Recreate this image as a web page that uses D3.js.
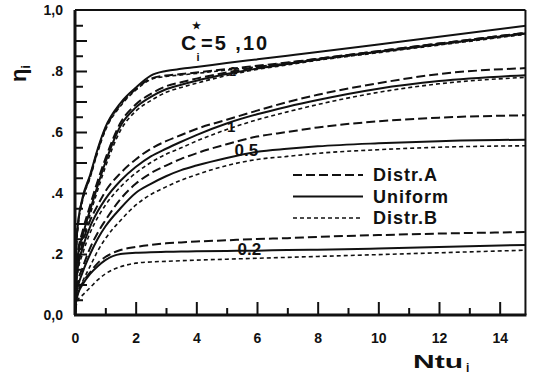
<!DOCTYPE html>
<html>
<head>
<meta charset="utf-8">
<script src="https://cdn.jsdelivr.net/npm/d3@7"></script>
<style>
  body { margin: 0; background: #fff; }
  text { font-family: "Liberation Sans", Arial, sans-serif; font-weight: bold; fill: #111; }
</style>
</head>
<body>
<div id="chart"></div>
<script>
// shared Ntu grid for every curve
const ntu = [0, 0.02, 0.05, 0.1, 0.25, 0.5, 0.75, 1, 1.5, 2, 2.5, 3, 3.5, 4, 5, 6, 7, 8, 10, 12, 15];

// C* = 5, 10
const c10A = [0, .14, .24, .30, .38, .455, .54, .61, .69, .74, .775, .785, .79, .795, .806, .817, .828, .84, .865, .89, .927];
const c10U = [0, .14, .24, .30, .385, .46, .545, .615, .695, .745, .785, .80, .807, .813, .826, .838, .85, .862, .887, .912, .95];
const c10B = [0, .13, .23, .29, .375, .45, .535, .605, .685, .737, .772, .782, .787, .792, .803, .814, .825, .837, .862, .887, .924];
// C* = 2
const c2A = [0, .11, .17, .21, .275, .36, .44, .512, .63, .69, .725, .75, .763, .775, .795, .812, .826, .84, .865, .89, .927];
const c2U = [0, .10, .16, .20, .26, .345, .425, .50, .62, .68, .715, .74, .755, .768, .79, .808, .823, .838, .863, .888, .925];
const c2B = [0, .09, .15, .19, .245, .33, .41, .485, .605, .668, .703, .73, .746, .76, .785, .805, .82, .835, .86, .885, .922];
// C* = 1
const c1A = [0, .075, .13, .17, .235, .31, .36, .405, .465, .51, .545, .57, .59, .61, .64, .67, .698, .722, .76, .79, .81];
const c1U = [0, .07, .12, .16, .22, .29, .34, .38, .44, .485, .52, .545, .568, .59, .628, .658, .683, .705, .742, .767, .787];
const c1B = [0, .06, .105, .145, .20, .27, .32, .36, .42, .465, .50, .527, .548, .57, .608, .64, .666, .69, .73, .758, .78];
// C* = 0.5
const c05A = [0, .045, .08, .11, .155, .22, .27, .31, .38, .43, .465, .49, .512, .53, .56, .585, .60, .615, .635, .647, .655];
const c05U = [0, .04, .07, .095, .14, .20, .25, .29, .35, .40, .43, .455, .475, .49, .515, .535, .545, .553, .563, .57, .575];
const c05B = [0, .03, .055, .075, .11, .16, .21, .25, .31, .36, .395, .42, .442, .46, .49, .51, .52, .53, .542, .55, .555];
// C* = 0.2
const c02A = [0, .035, .055, .075, .105, .14, .17, .19, .213, .223, .23, .235, .238, .241, .245, .249, .252, .256, .262, .267, .272];
const c02U = [0, .03, .05, .07, .10, .135, .16, .18, .20, .204, .206, .207, .208, .209, .21, .211, .213, .214, .218, .223, .23];
const c02B = [0, .02, .035, .05, .065, .09, .115, .135, .158, .17, .174, .176, .178, .18, .183, .186, .189, .192, .198, .204, .213];

const series = [
  { dist: 'A', values: c02A }, { dist: 'U', values: c02U }, { dist: 'B', values: c02B },
  { dist: 'A', values: c05A }, { dist: 'U', values: c05U }, { dist: 'B', values: c05B },
  { dist: 'A', values: c1A }, { dist: 'U', values: c1U }, { dist: 'B', values: c1B },
  { dist: 'A', values: c2A }, { dist: 'U', values: c2U }, { dist: 'B', values: c2B },
  { dist: 'A', values: c10A }, { dist: 'U', values: c10U }, { dist: 'B', values: c10B }
];

const curveLabels = [
  { text: '2', x: 5.2, y: 0.785, size: 12 },
  { text: '1', x: 5.15, y: 0.6, size: 15 },
  { text: '0.5', x: 5.65, y: 0.522, size: 17 },
  { text: '0.2', x: 5.75, y: 0.197, size: 17 }
];

const xMajor = [0, 2, 4, 6, 8, 10, 12, 14];
const xMinor = [1, 3, 5, 7, 9, 11, 13];
const yLabels = { 0: '0,0', 0.2: '.2', 0.4: '.4', 0.6: '.6', 0.8: '.8', 1: '1,0' };

const legendItems = [
  { dist: 'A', text: 'Distr.A' },
  { dist: 'U', text: 'Uniform' },
  { dist: 'B', text: 'Distr.B' }
];

const STYLES = {
  A: { dash: '9,4', width: 2 },
  U: { dash: null, width: 2 },
  B: { dash: '4,3', width: 1.6 }
};

const WIDTH = 534;
const HEIGHT = 383;
const X_END = 14.85;

const svg = d3.select('#chart').append('svg')
  .attr('width', WIDTH)
  .attr('height', HEIGHT);

svg.append('rect').attr('width', WIDTH).attr('height', HEIGHT).attr('fill', '#fff');

const x = d3.scaleLinear().domain([0, 15]).range([75, 530]);
const y = d3.scaleLinear().domain([0, 1]).range([315, 10]);

svg.append('clipPath').attr('id', 'plot-clip')
  .append('rect')
  .attr('x', x(0))
  .attr('y', y(1))
  .attr('width', x(X_END) - x(0))
  .attr('height', y(0) - y(1));

// x ticks, inward
svg.append('g')
  .attr('transform', `translate(0,${y(0)})`)
  .call(d3.axisBottom(x).tickValues(xMajor).tickSize(-13).tickPadding(18).tickFormat(d3.format('d')));
svg.append('g')
  .attr('transform', `translate(0,${y(0)})`)
  .call(d3.axisBottom(x).tickValues(xMinor).tickSize(-7).tickFormat(''));

// y ticks, inward, every .05
const yTicks = d3.range(1, 20).map(i => i / 20);
svg.append('g')
  .attr('transform', `translate(${x(0)},0)`)
  .call(d3.axisLeft(y).tickValues(yTicks.filter((d, i) => i % 2 === 1)).tickSize(-12).tickFormat(''));
svg.append('g')
  .attr('transform', `translate(${x(0)},0)`)
  .call(d3.axisLeft(y).tickValues(yTicks.filter((d, i) => i % 2 === 0)).tickSize(-8).tickFormat(''));
svg.append('g')
  .attr('transform', `translate(${x(0)},0)`)
  .call(d3.axisLeft(y).tickValues([0, 0.2, 0.4, 0.6, 0.8, 1]).tickSize(0).tickPadding(12)
    .tickFormat(d => yLabels[d]));

svg.selectAll('.domain').remove();
svg.selectAll('.tick line').attr('stroke', '#111').attr('stroke-width', 2);
svg.selectAll('.tick text')
  .attr('font-size', 14)
  .attr('font-family', '"Liberation Sans", Arial, sans-serif')
  .attr('font-weight', 'bold')
  .attr('fill', '#111');

// frame
svg.append('line').attr('x1', x(0)).attr('x2', x(0)).attr('y1', y(1)).attr('y2', y(0))
  .attr('stroke', '#111').attr('stroke-width', 3);
svg.append('line').attr('x1', x(0) - 1).attr('x2', x(X_END) + 1).attr('y1', y(0)).attr('y2', y(0))
  .attr('stroke', '#111').attr('stroke-width', 3);
svg.append('line').attr('x1', x(0)).attr('x2', x(X_END)).attr('y1', y(1)).attr('y2', y(1))
  .attr('stroke', '#111').attr('stroke-width', 2);
svg.append('line').attr('x1', x(X_END)).attr('x2', x(X_END)).attr('y1', y(1)).attr('y2', y(0))
  .attr('stroke', '#111').attr('stroke-width', 2);

// curves
const line = d3.line()
  .x((d, i) => x(ntu[i]))
  .y(d => y(d))
  .curve(d3.curveMonotoneX);

svg.append('g')
  .attr('clip-path', 'url(#plot-clip)')
  .selectAll('path')
  .data(series)
  .join('path')
    .attr('d', d => line(d.values))
    .attr('fill', 'none')
    .attr('stroke', '#111')
    .attr('stroke-width', d => STYLES[d.dist].width)
    .attr('stroke-dasharray', d => STYLES[d.dist].dash);

// curve labels
svg.selectAll('.curve-label')
  .data(curveLabels)
  .join('text')
    .attr('class', 'curve-label')
    .attr('x', d => x(d.x))
    .attr('y', d => y(d.y))
    .attr('text-anchor', 'middle')
    .attr('font-size', d => d.size)
    .text(d => d.text);

// C* label: C with star above and i below, then "=5 ,10"
svg.append('text').attr('x', 181).attr('y', 50).attr('font-size', 21).text('C');
svg.append('text').attr('x', 192).attr('y', 29).attr('font-size', 10).text('★');
svg.append('text').attr('x', 196.5).attr('y', 61).attr('font-size', 11).text('i');
svg.append('text').attr('x', 201).attr('y', 50).attr('font-size', 20)
  .attr('letter-spacing', 2).text('=5 ,10');

// legend
const legend = svg.append('g').attr('transform', 'translate(293,175)');
const legendRow = legend.selectAll('g')
  .data(legendItems)
  .join('g')
    .attr('transform', (d, i) => `translate(0,${i * 21.5})`);
legendRow.append('line')
  .attr('x1', 0).attr('x2', 70)
  .attr('stroke', '#111')
  .attr('stroke-width', d => STYLES[d.dist].width)
  .attr('stroke-dasharray', d => STYLES[d.dist].dash);
legendRow.append('text')
  .attr('x', 80)
  .attr('y', 6)
  .attr('font-size', 18)
  .attr('letter-spacing', 1)
  .text(d => d.text);

// axis titles
const xTitle = svg.append('text')
  .attr('x', 413)
  .attr('y', 368)
  .attr('font-size', 19);
xTitle.append('tspan').attr('textLength', 50).attr('lengthAdjust', 'spacingAndGlyphs').text('Ntu');
xTitle.append('tspan').attr('font-size', 12).attr('dx', 3).attr('dy', 4).text('i');

const yTitle = svg.append('text')
  .attr('transform', 'translate(26,82) rotate(-90)')
  .attr('font-family', '"DejaVu Sans", sans-serif')
  .attr('font-weight', 'normal')
  .attr('font-size', 22);
yTitle.append('tspan').text('η');
yTitle.append('tspan').attr('font-size', 12).attr('dy', 4).text('i');
</script>
</body>
</html>
